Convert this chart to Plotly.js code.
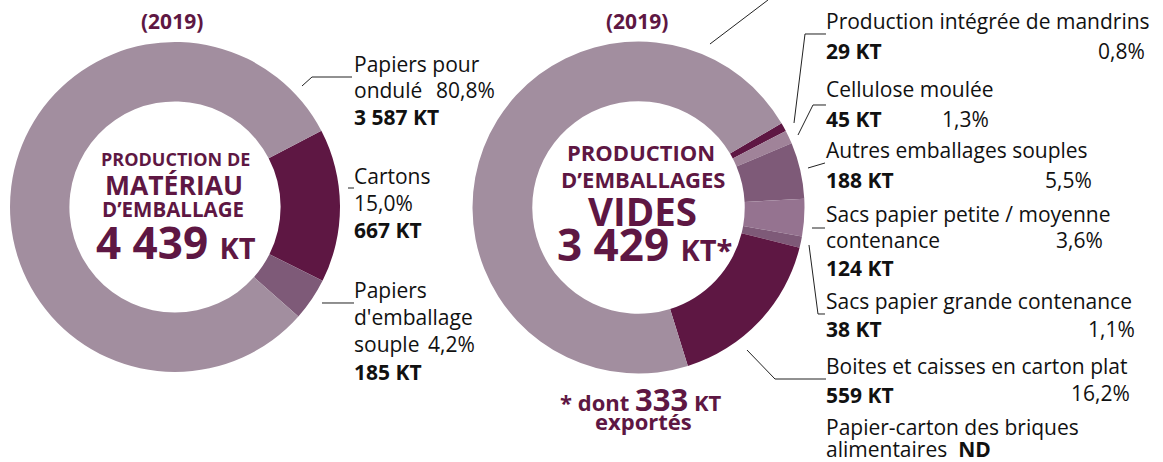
<!DOCTYPE html>
<html><head><meta charset="utf-8">
<script src="https://cdn.plot.ly/plotly-3.0.1.min.js"></script>
<style>html,body{margin:0;padding:0;background:#fff}#chart{width:1163px;height:462px}</style>
</head><body><div id="chart"></div>
<script>
// ---- data ----
const yearLabel = '(2019)';
const leftTitle = ['PRODUCTION DE', 'MATÉRIAU', 'D’EMBALLAGE'];
const leftTotal = 4439;
const leftLabels = ['Cartons', "Papiers d'emballage souple", 'Papiers pour ondulé'];
const leftValues = [667, 185, 3587];
const leftPct = ['15,0%', '4,2%', '80,8%'];

const rightTitle = ['PRODUCTION', 'D’EMBALLAGES', 'VIDES'];
const rightTotal = 3429;
const rightExported = 333;
const rightLabels = ['Production intégrée de mandrins', 'Cellulose moulée', 'Autres emballages souples',
  'Sacs papier petite / moyenne contenance', 'Sacs papier grande contenance',
  'Boites et caisses en carton plat', 'Emballages en carton ondulé'];
const rightValues = [29, 45, 188, 124, 38, 559, 2446];
const rightPct = ['0,8%', '1,3%', '5,5%', '3,6%', '1,1%', '16,2%', ''];
const extraLabel = ['Papier-carton des briques', 'alimentaires'];
const extraValue = 'ND';

// ---- styling ----
const W = 1163, H = 462;
const PLUM = '#5e1743';
const leftColors = ['#5e1743', '#7e5a78', '#a28e9f'];
const rightColors = ['#5e1743', '#a08399', '#7e5a78', '#957390', '#7e5a78', '#5e1743', '#a28e9f'];
const FONT = 'Open Sans';
const fmt = v => String(v).replace(/\B(?=(\d{3})+(?!\d))/g, ' ');
const px = x => x / W, py = y => 1 - y / H;

function dom(cx, cy, r) {
  return {x: [(cx - r) / W, (cx + r) / W], y: [(H - cy - r) / H, (H - cy + r) / H]};
}

const traces = [
  {type: 'pie', labels: leftLabels, values: leftValues, sort: false, direction: 'clockwise',
   rotation: 62.5, hole: 0.64, domain: dom(175, 207, 165), textinfo: 'none', hoverinfo: 'label+value',
   marker: {colors: leftColors, line: {width: 0}}, showlegend: false},
  {type: 'pie', labels: rightLabels, values: rightValues, sort: false, direction: 'clockwise',
   rotation: 59.5, hole: 0.64, domain: dom(638.5, 207.5, 166), textinfo: 'none', hoverinfo: 'label+value',
   marker: {colors: rightColors, line: {width: 0}}, showlegend: false}
];

const ann = [];
function t(x, y, text, size, opts = {}) {
  ann.push({xref: 'paper', yref: 'paper', x: px(x), y: py(y), text, showarrow: false,
    xanchor: opts.anchor || 'left', yanchor: 'middle', borderpad: 0,
    font: {family: opts.family || FONT, size, color: opts.color || '#111'}});
}
const B = s => '<b>' + s + '</b>';

// titles
t(172, 21, B(yearLabel), 21, {anchor: 'center', color: PLUM});
t(637, 21, B(yearLabel), 21, {anchor: 'center', color: PLUM});

// left centre
t(175, 159, B(leftTitle[0]), 18, {anchor: 'center', color: PLUM});
t(174, 185, B(leftTitle[1]), 26.5, {anchor: 'center', color: PLUM});
t(173, 209, B(leftTitle[2]), 20.5, {anchor: 'center', color: PLUM});
t(176, 242, B(fmt(leftTotal) + ' <span style="font-size:29px">KT</span>'), 44, {anchor: 'center', color: PLUM});

// right centre
t(641, 152, B(rightTitle[0]), 22, {anchor: 'center', color: PLUM});
t(643, 179, B(rightTitle[1]), 22, {anchor: 'center', color: PLUM});
t(642, 211, B(rightTitle[2]), 38.5, {anchor: 'center', color: PLUM});
t(644, 244, B(fmt(rightTotal) + ' <span style="font-size:29px">KT*</span>'), 44, {anchor: 'center', color: PLUM});
t(640, 399, B('* dont <span style="font-size:31px">' + rightExported + '</span> KT'), 22, {anchor: 'center', color: PLUM});
t(643, 421, B('exportés'), 22, {anchor: 'center', color: PLUM});

// left labels
const LX = 353, FS = 21;
t(LX, 64, 'Papiers pour', FS);
t(LX, 90, 'ondulé', FS); t(496, 90, leftPct[2], FS, {anchor: 'right'});
t(LX, 117, B(fmt(leftValues[2]) + ' KT'), FS);
t(LX, 176, leftLabels[0], FS);
t(LX, 203, leftPct[0], FS);
t(LX, 230, B(fmt(leftValues[0]) + ' KT'), FS);
t(LX, 290, 'Papiers', FS);
t(LX, 317, "d'emballage", FS);
t(LX, 344, 'souple', FS); t(476, 344, leftPct[1], FS, {anchor: 'right'});
t(LX, 372, B(fmt(leftValues[1]) + ' KT'), FS);

// right labels
const RX = 825;
t(RX, 21, rightLabels[0], FS);
t(RX, 51, B(fmt(rightValues[0]) + ' KT'), FS); t(1146, 51, rightPct[0], FS, {anchor: 'right'});
t(RX, 89, rightLabels[1], FS);
t(RX, 119, B(fmt(rightValues[1]) + ' KT'), FS); t(990, 119, rightPct[1], FS, {anchor: 'right'});
t(RX, 150, rightLabels[2], FS);
t(RX, 180, B(fmt(rightValues[2]) + ' KT'), FS); t(1093, 180, rightPct[2], FS, {anchor: 'right'});
t(RX, 214, 'Sacs papier petite / moyenne', FS);
t(RX, 240, 'contenance', FS); t(1104, 240, rightPct[3], FS, {anchor: 'right'});
t(RX, 268, B(fmt(rightValues[3]) + ' KT'), FS);
t(RX, 301, rightLabels[4], FS);
t(RX, 329, B(fmt(rightValues[4]) + ' KT'), FS); t(1136, 329, rightPct[4], FS, {anchor: 'right'});
t(RX, 366, rightLabels[5], FS);
t(RX, 395, B(fmt(rightValues[5]) + ' KT'), FS); t(1131, 393, rightPct[5], FS, {anchor: 'right'});
t(RX, 427, extraLabel[0], FS);
t(RX, 449, extraLabel[1] + '  ' + B(extraValue), FS);

// leader lines (pixel coords)
const leaders = [
  [[302, 86], [312, 77], [352, 77]],
  [[348, 188], [354, 188]],
  [[322, 303], [354, 303]],
  [[710, 44], [768, 0]],
  [[794, 123], [805, 34], [826, 34]],
  [[798, 135], [813, 105], [826, 105]],
  [[808, 168], [825, 163]],
  [[812, 228], [825, 228]],
  [[809, 245], [818, 314], [825, 314]],
  [[747, 350], [775, 379], [826, 379]]
];
const shapes = leaders.map(pts => ({
  type: 'path', xref: 'paper', yref: 'paper',
  path: pts.map((p, i) => (i ? 'L' : 'M') + px(p[0]).toFixed(5) + ',' + py(p[1]).toFixed(5)).join(' '),
  line: {color: '#222', width: 1}
}));

Plotly.newPlot('chart', traces, {
  width: W, height: H, margin: {l: 0, r: 0, t: 0, b: 0},
  paper_bgcolor: '#fff', plot_bgcolor: '#fff', showlegend: false,
  annotations: ann, shapes: shapes
}, {displayModeBar: false, staticPlot: true});
</script></body></html>
